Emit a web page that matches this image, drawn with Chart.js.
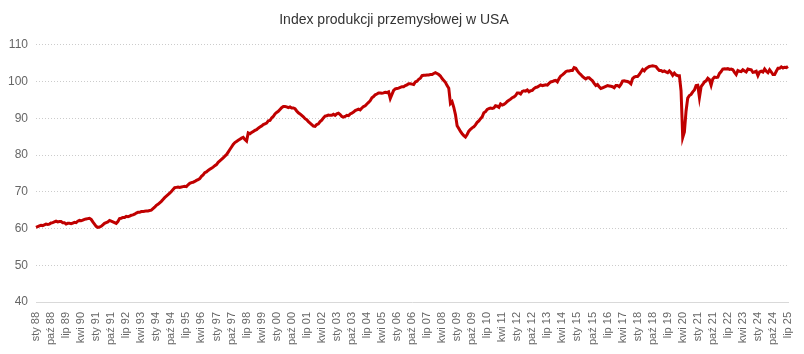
<!DOCTYPE html>
<html>
<head>
<meta charset="utf-8">
<script src="https://cdn.jsdelivr.net/npm/chart.js@4/dist/chart.umd.min.js"></script>
<style>
  html, body { margin: 0; padding: 0; background: #fff; }
  #wrap { width: 804px; height: 354px; position: relative; }
</style>
</head>
<body>
<div id="wrap"><canvas id="chart"></canvas></div>
<script>
/* Index produkcji przemysłowej w USA: monthly line, sty 88 .. lip 25 */

const MONTHS = ["sty", "lut", "mar", "kwi", "maj", "cze", "lip", "sie", "wrz", "paź", "lis", "gru"];
const FIRST_YEAR = 1988;
const TICK_EVERY = 9;
const Y_TICKS = [40, 50, 60, 70, 80, 90, 100, 110];

const values88_95 = [
  60.3, 60.5, 60.7, 60.9, 60.8, 61.0, 61.2, 61.1, 61.2, 61.5, 61.6, 61.8,
  62.0, 61.8, 61.9, 61.9, 61.6, 61.6, 61.2, 61.4, 61.4, 61.3, 61.5, 61.7,
  61.6, 62.0, 62.2, 62.1, 62.3, 62.5, 62.6, 62.7, 62.8, 62.5, 61.8, 61.2,
  60.6, 60.3, 60.4, 60.6, 61.0, 61.4, 61.6, 61.8, 62.2, 62.0, 61.8, 61.6,
  61.4, 61.9, 62.7, 62.8, 63.0, 63.0, 63.3, 63.2, 63.4, 63.6, 63.7, 63.9,
  64.2, 64.4, 64.4, 64.6, 64.6, 64.7, 64.8, 64.8, 64.9, 65.0, 65.4, 65.8,
  66.3, 66.6, 67.0, 67.4, 67.9, 68.4, 68.8, 69.2, 69.6, 70.1, 70.6, 71.1,
  71.2, 71.3, 71.2, 71.3, 71.4, 71.5, 71.4, 71.9, 72.3, 72.5, 72.6, 72.8,
];
const values96_03 = [
  73.1, 73.3, 73.6, 74.2, 74.6, 75.2, 75.4, 75.8, 76.1, 76.4, 76.7, 77.1,
  77.4, 78.0, 78.4, 78.8, 79.2, 79.7, 80.1, 80.8, 81.5, 82.2, 82.9, 83.4,
  83.7, 84.0, 84.3, 84.6, 84.8, 84.2, 83.8, 86.0, 85.8, 86.1, 86.4, 86.7,
  86.9, 87.3, 87.6, 87.9, 88.3, 88.5, 88.7, 89.3, 89.4, 90.1, 90.5, 91.2,
  91.6, 91.9, 92.4, 92.9, 93.2, 93.2, 93.1, 92.9, 93.1, 92.8, 92.8, 92.6,
  92.0, 91.5, 91.2, 90.8, 90.4, 89.9, 89.6, 89.1, 88.7, 88.3, 87.9, 87.8,
  88.3, 88.5, 89.1, 89.5, 90.1, 90.6, 90.7, 90.9, 90.8, 90.8, 91.1, 90.8,
  91.2, 91.4, 91.0, 90.5, 90.3, 90.5, 90.8, 90.7, 91.2, 91.4, 91.7, 92.1,
];
const values04_11 = [
  92.3, 92.5, 92.3, 92.8, 93.2, 93.4, 93.9, 94.3, 94.8, 95.6, 95.9, 96.4,
  96.6, 96.9, 96.9, 96.8, 96.9, 97.1, 97.0, 97.2, 95.4, 96.5, 97.6, 98.0,
  98.1, 98.2, 98.4, 98.6, 98.6, 98.9, 99.1, 99.4, 99.4, 99.3, 99.2, 99.9,
  100.1, 100.6, 100.9, 101.6, 101.7, 101.7, 101.8, 101.8, 101.9, 101.9, 102.2, 102.4,
  102.2, 101.9, 101.5, 100.8, 100.3, 99.8, 98.9, 98.2, 94.0, 94.5, 93.0, 91.0,
  88.0, 87.2, 86.4, 85.8, 85.3, 84.9, 85.6, 86.5, 87.0, 87.4, 87.7, 88.2,
  88.9, 89.3, 89.9, 90.4, 91.5, 91.8, 92.4, 92.6, 92.8, 92.7, 92.8, 93.4,
  93.3, 93.0, 93.9, 93.6, 93.8, 94.1, 94.6, 94.9, 95.2, 95.6, 95.8, 96.2,
];
const values12_19 = [
  96.9, 96.9, 96.6, 97.3, 97.5, 97.4, 97.7, 97.2, 97.5, 97.6, 98.1, 98.4,
  98.5, 98.8, 99.1, 98.9, 99.0, 99.1, 99.0, 99.5, 99.9, 100.0, 100.2, 100.3,
  99.9, 100.8, 101.5, 101.8, 102.2, 102.7, 102.9, 102.9, 103.0, 103.0, 103.8, 103.6,
  102.9, 102.3, 101.9, 101.4, 101.0, 100.7, 101.0, 101.0, 100.6, 100.2, 99.5, 98.9,
  99.2, 98.6, 98.1, 98.3, 98.5, 98.7, 98.9, 98.8, 98.7, 98.6, 98.3, 98.9,
  98.9, 98.6, 99.2, 100.1, 100.2, 100.1, 100.0, 99.8, 99.4, 100.8, 101.2, 101.4,
  101.4, 101.9, 102.6, 103.3, 102.9, 103.5, 103.8, 104.1, 104.2, 104.3, 104.2, 104.1,
  103.5, 103.0, 103.0, 102.7, 102.9, 102.6, 102.4, 102.9, 102.4, 101.7, 102.3, 101.8,
];
const values20_25 = [
  101.6, 101.6, 97.5, 84.8, 86.3, 92.0, 95.5, 96.2, 96.5, 97.2, 97.7, 98.9,
  99.0, 95.7, 98.6, 99.2, 99.9, 100.2, 100.9, 100.5, 99.0, 100.7, 101.2, 101.1,
  101.2, 102.2, 102.7, 103.4, 103.5, 103.4, 103.5, 103.3, 103.4, 103.2, 102.5, 101.9,
  103.0, 102.8, 102.7, 103.2, 102.9, 102.6, 103.4, 103.3, 103.2, 102.5, 102.6, 102.8,
  101.6, 102.6, 102.8, 102.6, 103.4, 102.8, 102.4, 103.2, 102.6, 101.9, 101.9, 102.8,
  103.6, 103.6, 104.0, 103.7, 103.9, 103.8, 104.1,
];

const values = [].concat(values88_95, values96_03, values04_11, values12_19, values20_25);

const labels = values.map((_, i) => {
  const yy = String((FIRST_YEAR + Math.floor(i / 12)) % 100).padStart(2, "0");
  return MONTHS[i % 12] + " " + yy;
});

const FONT = "'Liberation Sans', Arial, sans-serif";

new Chart(document.getElementById("chart"), {
  type: "line",
  data: {
    labels,
    datasets: [{
      label: "Index produkcji przemysłowej w USA",
      data: values,
      borderColor: "#c00000",
      backgroundColor: "#c00000",
      borderWidth: 3,
      pointRadius: 0,
      tension: 0,
    }],
  },
  options: {
    responsive: true,
    maintainAspectRatio: false,
    animation: false,
    layout: { padding: { left: 0, right: 16, top: 0, bottom: 0 } },
    plugins: {
      legend: { display: false },
      tooltip: { enabled: false },
      title: {
        display: true,
        text: "Index produkcji przemysłowej w USA",
        color: "#333",
        font: { family: FONT, size: 14, weight: "normal" },
        padding: { top: 12, bottom: 16 },
      },
    },
    scales: {
      x: {
        grid: { display: false },
        border: { display: true, color: "#d9d9d9" },
        ticks: {
          autoSkip: false,
          minRotation: 90,
          maxRotation: 90,
          padding: 2,
          color: "#666",
          font: { family: FONT, size: 11 },
          callback: function (value, index) {
            return index % TICK_EVERY === 0 ? this.getLabelForValue(value) : null;
          },
        },
        afterFit: (scale) => { scale.height = 52; },
      },
      y: {
        min: Y_TICKS[0],
        max: Y_TICKS[Y_TICKS.length - 1],
        afterBuildTicks: (scale) => { scale.ticks = Y_TICKS.map((v) => ({ value: v })); },
        grid: { color: "#cccccc", drawTicks: false },
        border: { display: false, dash: [1, 2] },
        ticks: {
          padding: 8,
          color: "#666",
          font: { family: FONT, size: 12 },
        },
        afterFit: (scale) => { scale.width = 36; },
      },
    },
  },
});
</script>
</body>
</html>
